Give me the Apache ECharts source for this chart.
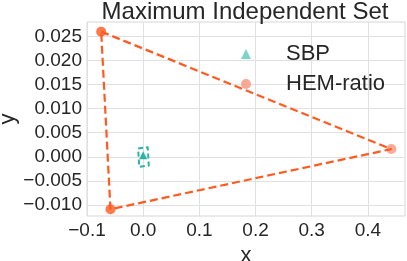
<!DOCTYPE html>
<html>
<head>
<meta charset="utf-8">
<script src="https://cdn.jsdelivr.net/npm/echarts@6/dist/echarts.min.js"></script>
<style>
html,body{margin:0;padding:0;background:#fff;}
#c{width:407px;height:261px;}
</style>
</head>
<body>
<div id="c"></div>
<script>
// ---- data ----
var title = 'Maximum Independent Set';
var xTicks = [-0.1, 0.0, 0.1, 0.2, 0.3, 0.4];
var yTicks = [-0.010, -0.005, 0.000, 0.005, 0.010, 0.015, 0.020, 0.025];
var sbpPoints = [[0.0, 0.0003]];
var sbpHull = [[-0.0090, 0.0017], [-0.0070, 0.0020], [0.0080, 0.0020], [0.0100, 0.0017], [0.0100, -0.0018], [0.0080, -0.0021], [-0.0070, -0.0021], [-0.0090, -0.0018], [-0.0090, 0.0017]];
var hemPoints = [[-0.0748, 0.0260], [-0.0582, -0.0109], [0.4417, 0.0016]];
var hemHull = [[-0.0748, 0.0260], [0.4417, 0.0016], [-0.0582, -0.0109], [-0.0748, 0.0260]];

var FONT = 'Liberation Sans, Arial, sans-serif';
var TXT = '#262626';
function fmt(v, d) {
  var s = Math.abs(v).toFixed(d);
  return (v < -1e-12 ? '\u2212' : '') + s;
}
var chart = echarts.init(document.getElementById('c'), null, {renderer: 'canvas'});
chart.setOption({
  animation: false,
  backgroundColor: '#ffffff',
  title: {
    text: title, left: 245, textAlign: 'center', top: 0, padding: 0,
    textStyle: {fontFamily: FONT, fontSize: 24, fontWeight: 'normal', color: TXT}
  },
  legend: {
    orient: 'vertical', left: 241, top: 43, padding: 0,
    itemWidth: 10, itemHeight: 10, itemGap: 8,
    textStyle: {fontFamily: FONT, fontSize: 22, color: TXT, padding: [0, 0, 0, 30], lineHeight: 22},
    data: [
      {name: 'SBP', icon: 'triangle', itemStyle: {color: '#7dd3ca'}},
      {name: 'HEM-ratio', icon: 'circle', itemStyle: {color: '#f8957c'}}
    ]
  },
  grid: {left: 87, right: 2, top: 22, bottom: 45, show: true, borderColor: '#d6d6d6', borderWidth: 1,
    containLabel: false, outerBoundsMode: 'none'},
  xAxis: {
    type: 'value', min: -0.1, max: 0.466,
    name: 'x', nameLocation: 'middle', nameGap: 29, nameMoveOverlap: false,
    nameTextStyle: {fontFamily: FONT, fontSize: 22, color: TXT},
    axisLine: {show: false}, axisTick: {show: false, customValues: xTicks},
    axisLabel: {customValues: xTicks, fontFamily: FONT, fontSize: 19, color: TXT, margin: 5,
      formatter: function (v) { return fmt(v, 1); }},
    splitLine: {show: true, lineStyle: {color: '#e0e0e0', width: 1}}
  },
  yAxis: {
    type: 'value', min: -0.0123, max: 0.028,
    name: 'y', nameLocation: 'middle', nameGap: 68, nameMoveOverlap: false,
    nameTextStyle: {fontFamily: FONT, fontSize: 22, color: TXT},
    axisLine: {show: false}, axisTick: {show: false, customValues: yTicks},
    axisLabel: {customValues: yTicks, fontFamily: FONT, fontSize: 19, color: TXT, margin: 5,
      formatter: function (v) { return fmt(v, 3); }},
    splitLine: {show: true, lineStyle: {color: '#e0e0e0', width: 1}}
  },
  series: [
    {
      type: 'line', data: sbpHull, symbol: 'none', silent: true,
      lineStyle: {color: '#2cb3a7', width: 2, type: [5, 3], join: 'round'}
    },
    {
      type: 'line', data: hemHull, symbol: 'none', silent: true,
      lineStyle: {color: '#ff5a1f', width: 2.2, type: [8, 4]}
    },
    {
      name: 'SBP', type: 'scatter', data: sbpPoints, symbol: 'triangle', symbolSize: 8,
      itemStyle: {color: '#2cb3a7', opacity: 1}
    },
    {
      name: 'HEM-ratio', type: 'scatter', data: hemPoints, symbol: 'circle', symbolSize: 10,
      itemStyle: {color: function (p) { return p.dataIndex === 2 ? '#f8957c' : '#ff5a1f'; }}
    }
  ]
});
</script>
</body>
</html>
